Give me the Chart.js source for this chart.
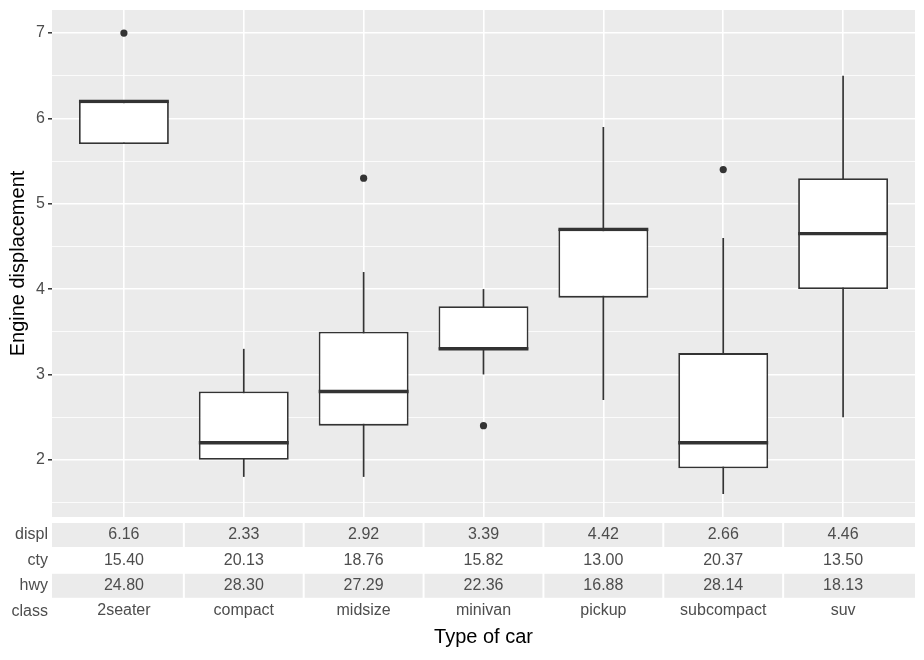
<!DOCTYPE html>
<html>
<head>
<meta charset="utf-8">
<script src="https://cdn.jsdelivr.net/npm/chart.js@4.4.1/dist/chart.umd.min.js"></script>
<style>
  html, body { margin: 0; padding: 0; background: #fff; }
  #wrap { width: 924px; height: 660px; }
</style>
</head>
<body>
<div id="wrap"><canvas id="chart"></canvas></div>
<script>
// mpg: engine displacement by class
const classes = ["2seater", "compact", "midsize", "minivan", "pickup", "subcompact", "suv"];
const whiskerLow  = [5.7, 1.8, 1.8, 3.0, 2.7, 1.6, 2.5];
const q1          = [5.7, 2.0, 2.4, 3.3, 3.9, 1.9, 4.0];
const median      = [6.2, 2.2, 2.8, 3.3, 4.7, 2.2, 4.65];
const q3          = [6.2, 2.8, 3.5, 3.8, 4.7, 3.25, 5.3];
const whiskerHigh = [6.2, 3.3, 4.2, 4.0, 5.9, 4.6, 6.5];
const outliers    = [7.0, null, 5.3, 2.4, null, 5.4, null];

// table of means under the plot
const displMean = [6.16, 2.33, 2.92, 3.39, 4.42, 2.66, 4.46];
const ctyMean   = [15.40, 20.13, 18.76, 15.82, 13.00, 20.37, 13.50];
const hwyMean   = [24.80, 28.30, 27.29, 22.36, 16.88, 28.14, 18.13];

const yMajor = [2, 3, 4, 5, 6, 7];
const yMinor = [1.5, 2.5, 3.5, 4.5, 5.5, 6.5];

const FONT = "'Liberation Sans', Arial, sans-serif";
const TXT = "#4D4D4D";
const INK = "#333333";

const panelBg = {
  id: "panelBg",
  beforeDraw(chart) {
    const { ctx, chartArea: a } = chart;
    ctx.save();
    ctx.fillStyle = "#EBEBEB";
    ctx.fillRect(a.left, a.top, a.right - a.left, a.bottom - a.top);
    ctx.restore();
  }
};

const boxParts = {
  id: "boxParts",
  beforeDatasetsDraw(chart) {
    // whiskers go under the boxes
    const { ctx } = chart;
    const xs = chart.scales.x, ys = chart.scales.y;
    ctx.save();
    ctx.strokeStyle = INK;
    ctx.lineWidth = 1.7;
    classes.forEach((c, i) => {
      const x = xs.getPixelForValue(i + 1);
      ctx.beginPath();
      ctx.moveTo(x, ys.getPixelForValue(whiskerLow[i]));
      ctx.lineTo(x, ys.getPixelForValue(whiskerHigh[i]));
      ctx.stroke();
    });
    ctx.restore();
  },
  afterDatasetDraw(chart, args) {
    if (args.index !== 0) return;
    const { ctx } = chart;
    const ys = chart.scales.y;
    const bars = chart.getDatasetMeta(0).data;
    ctx.save();
    ctx.strokeStyle = INK;
    ctx.lineWidth = 3.4;
    bars.forEach((b, i) => {
      const y = ys.getPixelForValue(median[i]);
      ctx.beginPath();
      ctx.moveTo(b.x - b.width / 2, y);
      ctx.lineTo(b.x + b.width / 2, y);
      ctx.stroke();
    });
    ctx.restore();
  }
};

const meansTable = {
  id: "meansTable",
  afterDraw(chart) {
    const { ctx, chartArea: a } = chart;
    const xs = chart.scales.x;
    const last = classes.length - 1;
    const rows = [
      ["displ", displMean, true],
      ["cty", ctyMean, false],
      ["hwy", hwyMean, true]
    ];
    ctx.save();
    ctx.font = "16px " + FONT;
    ctx.textBaseline = "middle";
    rows.forEach((r, k) => {
      const yc = a.bottom + 18 + k * 25.4;
      if (r[2]) {
        ctx.fillStyle = "#EBEBEB";
        classes.forEach((c, i) => {
          const l = i === 0 ? a.left : xs.getPixelForValue(i + 0.5) + 1;
          const rr = i === last ? a.right : xs.getPixelForValue(i + 1.5) - 1;
          ctx.fillRect(l, yc - 12, rr - l, 24);
        });
      }
      ctx.fillStyle = TXT;
      ctx.textAlign = "right";
      ctx.fillText(r[0], a.left - 4, yc);
      ctx.textAlign = "center";
      r[1].forEach((v, i) => ctx.fillText(v.toFixed(2), xs.getPixelForValue(i + 1), yc));
    });
    ctx.textAlign = "right";
    ctx.fillText("class", a.left - 4, a.bottom + 18 + 3 * 25.4);
    ctx.restore();
  }
};

const ctx = document.getElementById("chart").getContext("2d");
new Chart(ctx, {
  type: "bar",
  data: {
    datasets: [
      {
        type: "bar",
        data: classes.map((c, i) => ({ x: i + 1, y: [q1[i], q3[i]] })),
        backgroundColor: "#FFFFFF",
        borderColor: INK,
        borderWidth: 1.8,
        borderSkipped: false,
        barPercentage: 0.75,
        categoryPercentage: 1,
        order: 2
      },
      {
        type: "scatter",
        data: outliers.map((v, i) => (v === null ? null : { x: i + 1, y: v })).filter(Boolean),
        pointRadius: 3.6,
        pointBackgroundColor: INK,
        pointBorderWidth: 0,
        order: 1
      }
    ]
  },
  options: {
    responsive: true,
    maintainAspectRatio: false,
    animation: false,
    layout: { padding: { top: 10, right: 9, bottom: 0, left: 0 } },
    plugins: { legend: { display: false }, tooltip: { enabled: false } },
    scales: {
      x: {
        type: "linear",
        min: 0.4,
        max: 7.6,
        offset: false,
        afterBuildTicks: axis => { axis.ticks = classes.map((c, i) => ({ value: i + 1 })); },
        afterFit: axis => {
          axis.height = 143;
          axis.paddingLeft = 0;
          axis.paddingRight = 0;
        },
        border: { display: false },
        grid: { color: "#FFFFFF", lineWidth: 1.6, drawTicks: false, offset: false },
        ticks: {
          autoSkip: false,
          maxRotation: 0,
          padding: 84,
          color: TXT,
          font: { family: FONT, size: 16 },
          callback: v => classes[v - 1]
        },
        title: {
          display: true,
          text: "Type of car",
          color: "#000000",
          font: { family: FONT, size: 20 },
          padding: { top: 0, bottom: 11 }
        }
      },
      y: {
        min: 1.33,
        max: 7.27,
        afterBuildTicks: axis => {
          axis.ticks = yMinor.concat(yMajor).sort((a, b) => a - b).map(v => ({ value: v }));
        },
        afterFit: axis => {
          axis.width = 52;
          axis.paddingTop = 0;
          axis.paddingBottom = 0;
        },
        border: { display: false },
        grid: {
          color: "#FFFFFF",
          lineWidth: c => (Number.isInteger(c.tick.value) ? 1.6 : 0.8),
          tickColor: c => (Number.isInteger(c.tick.value) ? INK : "rgba(0,0,0,0)"),
          tickLength: 4,
          tickWidth: 1.5
        },
        ticks: {
          padding: 3,
          color: TXT,
          font: { family: FONT, size: 16 },
          callback: v => (Number.isInteger(v) ? String(v) : "")
        },
        title: {
          display: true,
          text: "Engine displacement",
          color: "#000000",
          font: { family: FONT, size: 20 },
          padding: { top: 6, bottom: 0 }
        }
      }
    }
  },
  plugins: [panelBg, boxParts, meansTable]
});
</script>
</body>
</html>
